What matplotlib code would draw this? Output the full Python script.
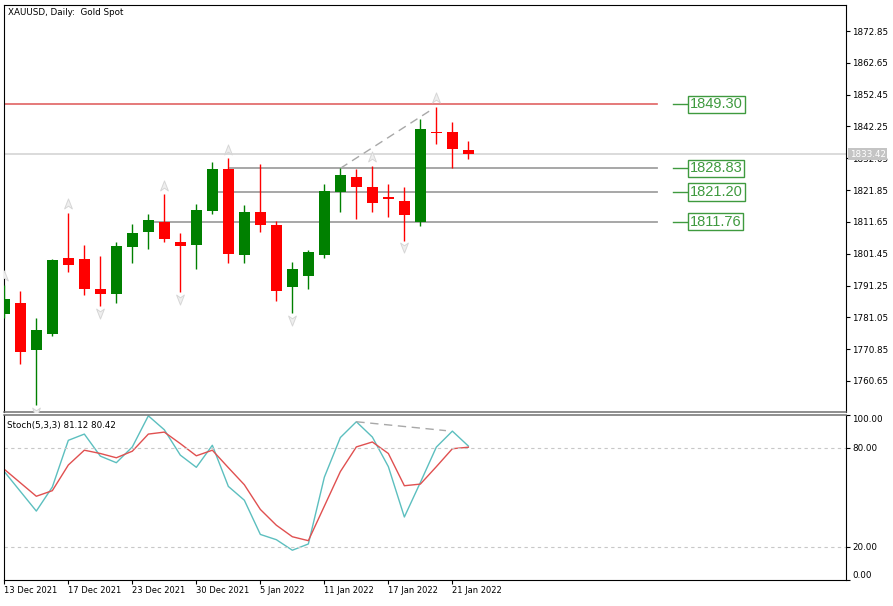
import numpy as np
import matplotlib.pyplot as plt
from matplotlib.path import Path
from matplotlib.transforms import blended_transform_factory

# daily XAUUSD bars, 13 Dec 2021 .. 24 Jan 2022
dates = ["13 Dec 2021", "14 Dec 2021", "15 Dec 2021", "16 Dec 2021", "17 Dec 2021",
         "20 Dec 2021", "21 Dec 2021", "22 Dec 2021", "23 Dec 2021", "27 Dec 2021",
         "28 Dec 2021", "29 Dec 2021", "30 Dec 2021", "31 Dec 2021", "3 Jan 2022",
         "4 Jan 2022", "5 Jan 2022", "6 Jan 2022", "7 Jan 2022", "10 Jan 2022",
         "11 Jan 2022", "12 Jan 2022", "13 Jan 2022", "14 Jan 2022", "17 Jan 2022",
         "18 Jan 2022", "19 Jan 2022", "20 Jan 2022", "21 Jan 2022", "24 Jan 2022"]
opens = [1782.10, 1785.55, 1770.55, 1775.80, 1799.95, 1799.65, 1790.15, 1788.55, 1803.60, 1808.45,
         1811.65, 1805.10, 1804.25, 1815.05, 1828.75, 1801.05, 1814.85, 1810.55, 1790.85, 1794.30,
         1801.05, 1821.25, 1825.95, 1822.75, 1819.55, 1818.25, 1811.76, 1840.55, 1840.55, 1834.70]
highs = [1791.50, 1789.50, 1780.75, 1799.75, 1814.55, 1804.15, 1800.75, 1805.10, 1810.95, 1814.05,
         1820.45, 1808.05, 1817.25, 1830.75, 1832.05, 1816.95, 1830.15, 1812.05, 1798.70, 1802.65,
         1823.70, 1828.83, 1828.60, 1829.65, 1823.70, 1822.95, 1844.55, 1848.55, 1843.75, 1837.65]
lows = [1781.00, 1765.95, 1752.95, 1775.15, 1795.65, 1788.35, 1784.65, 1785.75, 1798.55, 1802.95,
        1805.10, 1789.25, 1796.45, 1814.15, 1798.55, 1798.55, 1808.50, 1786.35, 1782.55, 1790.25,
        1800.15, 1814.75, 1812.55, 1814.75, 1813.15, 1805.65, 1810.45, 1836.60, 1828.85, 1831.75]
closes = [1786.90, 1770.00, 1776.95, 1799.45, 1797.90, 1790.25, 1788.55, 1803.85, 1808.05, 1812.15,
          1806.15, 1803.90, 1815.35, 1828.75, 1801.35, 1814.75, 1810.65, 1789.45, 1796.55, 1801.90,
          1821.65, 1826.55, 1822.75, 1817.70, 1818.95, 1813.85, 1841.45, 1840.05, 1834.90, 1833.42]

fractal_up = [0, 4, 10, 14, 23, 27]
fractal_down = [2, 6, 11, 18, 25]

stoch_k = [65.6, 53.6, 41.6, 56.2, 84.6, 88.4, 75.0, 71.0, 80.6, 99.5,
           91.0, 75.6, 68.2, 81.6, 56.6, 48.2, 27.4, 24.2, 17.8, 21.6,
           62.2, 86.3, 95.9, 86.6, 68.6, 38.0, 59.0, 80.5, 90.2, 81.12]
stoch_d = [67.0, 58.8, 50.6, 54.0, 69.6, 78.6, 76.6, 74.0, 78.0, 88.4,
           89.6, 82.6, 75.2, 78.6, 68.0, 57.6, 42.6, 33.0, 26.0, 23.6,
           44.6, 65.6, 80.6, 83.6, 76.6, 57.0, 58.0, 68.6, 79.5, 80.42]

# drawn levels: (price, first bar)
resistance = 1849.30
levels = [1828.83, 1821.20, 1811.76]
level_starts = [14.1, 13.3, 9.2]
last_price = 1833.42
price_ticks = [1760.65 + 10.2 * k for k in range(12)]
date_tick_idx = [0, 4, 8, 12, 16, 20, 24, 28]

x = np.arange(len(dates))
o, h, l, c = map(np.array, (opens, highs, lows, closes))
up = c >= o

fig = plt.figure(figsize=(8.93, 6.06), dpi=100)
ax = fig.add_axes([4 / 893, 1 - 412 / 606, 842 / 893, 407 / 606])
ax2 = fig.add_axes([4 / 893, 1 - 580 / 606, 842 / 893, 165 / 606], sharex=ax)

# candles
cols = np.where(up, "#008000", "#ff0000")
ax.vlines(x, l, h, colors=cols, linewidth=1, zorder=3)
body = np.maximum(np.abs(c - o), 0.5)
ax.bar(x, body, bottom=np.minimum(o, c), width=0.69, color=cols, linewidth=0, zorder=4)

# fractals
arrow = Path([(0, 1), (0.7, -0.8), (0, -0.3), (-0.7, -0.8), (0, 1)],
             [Path.MOVETO, Path.LINETO, Path.LINETO, Path.LINETO, Path.CLOSEPOLY])
arrow_dn = Path(arrow.vertices * [1, -1], arrow.codes)
ax.plot(x[fractal_up], h[fractal_up] + 2.8, ls="none", marker=arrow, ms=8,
        mfc="#efefef", mec="#d6d6d6", mew=0.7, zorder=5)
ax.plot(x[fractal_down], l[fractal_down] - 2.2, ls="none", marker=arrow_dn, ms=8,
        mfc="#efefef", mec="#d6d6d6", mew=0.7, zorder=5)

# levels
line_end = 40.8
ax.axhline(last_price, color="#d4d4d4", lw=1.2, zorder=1)
ax.plot([-0.02, line_end], [resistance, resistance], color="#e06262", lw=1.2, zorder=2)
for lv, st in zip(levels, level_starts):
    ax.plot([st, line_end], [lv, lv], color="#a0a0a0", lw=1.3, zorder=2)
ax.plot([21, 26.6], [highs[21], highs[21] + 5.6 * 3.3], color="#a8a8a8", lw=1,
        ls=(0, (6, 4)), zorder=2)
for lv in [resistance] + levels:
    ax.plot([41.8, 42.8], [lv, lv], color="#3f9a3f", lw=1, zorder=6)
    ax.text(42.85, lv, f"{lv:.2f}", color="#3f9a3f", fontsize=10.5, family="Liberation Sans",
            va="center", ha="left", zorder=6,
            bbox=dict(boxstyle="square,pad=0.12", fc="white", ec="#3f9a3f", lw=1))

ax.set_xlim(-0.02, 52.6)
ax.set_ylim(1750.7, 1881.2)
ax.yaxis.tick_right()
ax.set_yticks(price_ticks)
ax.set_yticklabels([f"{v:.2f}" for v in price_ticks])
ax.tick_params(axis="y", direction="out", length=3, width=0.8, labelsize=6.3, pad=1.5)
ax.tick_params(axis="x", bottom=False, labelbottom=False)
for s in ("left", "top", "right"):
    ax.spines[s].set_color("black")
ax.spines["bottom"].set_color("#707070")
ax.spines["bottom"].set_linewidth(1.1)

tr = blended_transform_factory(ax.transAxes, ax.transData)
ax.text(1.0045, last_price, f"{last_price:.2f}", transform=tr, fontsize=6.3, color="white",
        va="center", ha="left", zorder=10, clip_on=False,
        bbox=dict(boxstyle="square,pad=0.15", fc="#c4c4c4", ec="none"))
ax.text(0.005, 0.993, "XAUUSD, Daily:  Gold Spot", transform=ax.transAxes, fontsize=6.3,
        va="top", ha="left")

# stochastic
ax2.plot(x, stoch_k, color="#5cbfbf", lw=1)
ax2.plot(x, stoch_d, color="#e05050", lw=1)
ax2.plot([22, 27.6], [stoch_k[22], stoch_k[22] - 5.4], color="#a8a8a8", lw=1, ls=(0, (6, 4)))
for lv in (80, 20):
    ax2.axhline(lv, color="#c8c8c8", lw=0.8, ls=(0, (3, 3)))
ax2.set_ylim(-0.3, 100)
ax2.yaxis.tick_right()
ax2.set_yticks([0, 20, 80, 100])
ax2.set_yticklabels(["0.00", "20.00", "80.00", "100.00"])
ax2.tick_params(axis="y", direction="out", length=3, width=0.8, labelsize=6.3, pad=1.5)
yl = ax2.get_yticklabels()
yl[0].set_va("bottom")
yl[-1].set_va("top")
ax2.spines["top"].set_color("#707070")
ax2.spines["top"].set_linewidth(1.1)
ax2.text(0.004, 0.965, f"Stoch(5,3,3) {stoch_k[-1]:.2f} {stoch_d[-1]:.2f}",
         transform=ax2.transAxes, fontsize=6.3, va="top", ha="left")

ax2.set_xticks(date_tick_idx)
ax2.set_xticklabels([dates[i] for i in date_tick_idx])
ax2.tick_params(axis="x", direction="out", length=3, width=0.8, labelsize=6, pad=1)
for t in ax2.get_xticklabels():
    t.set_ha("left")

fig.savefig("out.png", dpi=100)
